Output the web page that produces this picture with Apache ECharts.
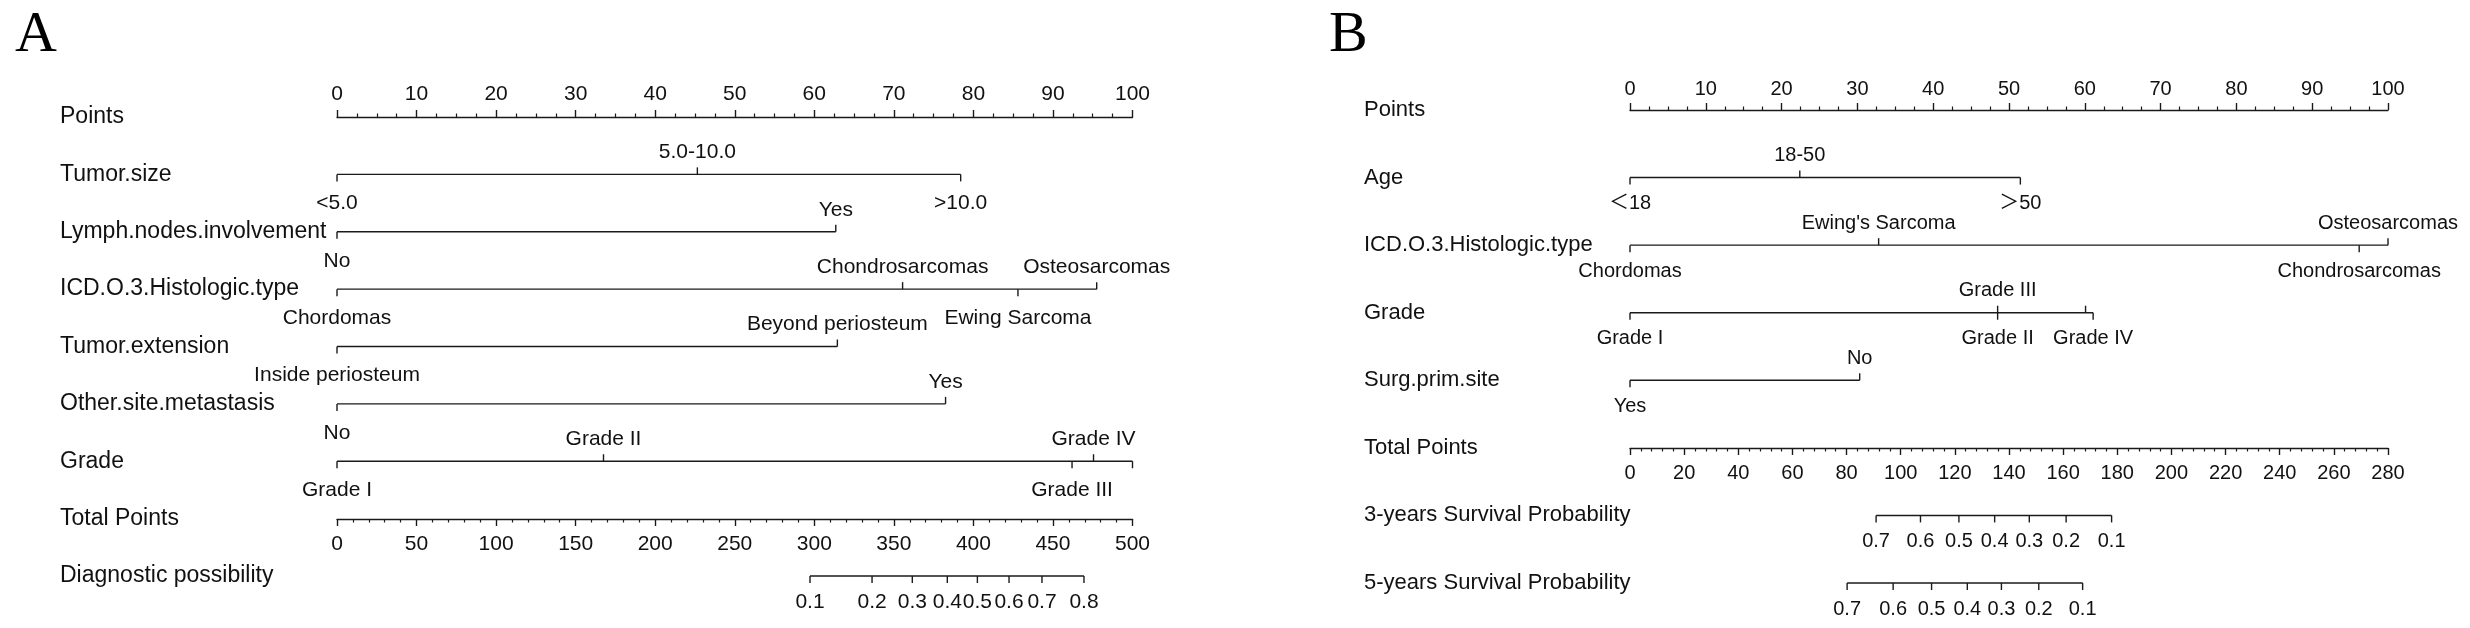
<!DOCTYPE html>
<html><head><meta charset="utf-8">
<script src="https://cdn.jsdelivr.net/npm/echarts@6/dist/echarts.min.js"></script>
<style>html,body{margin:0;padding:0;background:#fff}#c{width:2470px;height:628px}</style>
</head><body><div id="c"></div><script>
// ---------------- Panel A data ----------------
const aRowNames = ['Points','Tumor.size','Lymph.nodes.involvement','ICD.O.3.Histologic.type','Tumor.extension','Other.site.metastasis','Grade','Total Points','Diagnostic possibility'];
const aPointsMax = 100;
const aTotalMax = 500;
const aTumorSizeLevels = ['<5.0','5.0-10.0','>10.0'];
const aTumorSizePoints = [0, 45.3, 78.4];
const aLymphLevels = ['No','Yes'];
const aLymphPoints = [0, 62.7];
const aHistLevels = ['Chordomas','Chondrosarcomas','Ewing Sarcoma','Osteosarcomas'];
const aHistPoints = [0, 71.1, 85.6, 95.5];
const aExtLevels = ['Inside periosteum','Beyond periosteum'];
const aExtPoints = [0, 62.9];
const aMetLevels = ['No','Yes'];
const aMetPoints = [0, 76.5];
const aGradeLevels = ['Grade I','Grade II','Grade III','Grade IV',''];
const aGradePoints = [0, 33.5, 92.4, 95.1, 100];
const aDiagLabels = ['0.1','0.2','0.3','0.4','0.5','0.6','0.7','0.8'];
const aDiagTotals = [297.3, 336.3, 361.6, 383.6, 402.5, 422.4, 443.1, 469.5];

// ---------------- Panel B data ----------------
const bRowNames = ['Points','Age','ICD.O.3.Histologic.type','Grade','Surg.prim.site','Total Points','3-years Survival Probability','5-years Survival Probability'];
const bPointsMax = 100;
const bTotalMax = 280;
const bAgeLevels = ['\uFF1C18','18-50','\uFF1E50'];
const bAgePoints = [0, 22.4, 51.5];
const bHistLevels = ['Chordomas',"Ewing's Sarcoma",'Chondrosarcomas','Osteosarcomas'];
const bHistPoints = [0, 32.8, 96.2, 100];
const bGradeLevels = ['Grade I','Grade III','Grade II','','Grade IV'];
const bGradePoints = [0, 48.5, 48.5, 60.1, 61.1];
const bSurgLevels = ['Yes','No'];
const bSurgPoints = [0, 30.3];
const b3yLabels = ['0.7','0.6','0.5','0.4','0.3','0.2','0.1'];
const b3yTotals = [90.9, 107.3, 121.5, 134.7, 147.5, 161.1, 177.9];
const b5yLabels = ['0.7','0.6','0.5','0.4','0.3','0.2','0.1'];
const b5yTotals = [80.2, 97.2, 111.4, 124.6, 137.2, 151.0, 167.2];

// ---------------- styling ----------------
const FONT = '"Liberation Sans", Arial, "Noto Sans CJK SC", sans-serif';
const LINE = '#1a1a1a';
const LW = 1.4;
const TXT = '#111';

function levelSeries(xIdx, yIdx, row, levels, pts, fontSize, belowOff) {
  const lo = Math.min.apply(null, pts), hi = Math.max.apply(null, pts);
  return {
    type: 'custom', xAxisIndex: xIdx, yAxisIndex: yIdx, clip: false, silent: true,
    data: pts.map(p => [p, row]),
    renderItem(params, api) {
      const i = params.dataIndex;
      const c = api.coord([api.value(0), api.value(1)]);
      const up = i % 2 === 1;
      const ch = [{type: 'line', shape: {x1: c[0], y1: c[1], x2: c[0], y2: c[1] + (up ? -7 : 7)}, style: {stroke: LINE, lineWidth: LW}}];
      if (i === 0) {
        const s = api.coord([lo, row]), e = api.coord([hi, row]);
        ch.push({type: 'line', shape: {x1: s[0], y1: s[1], x2: e[0], y2: e[1]}, style: {stroke: LINE, lineWidth: LW}});
      }
      if (levels[i]) ch.push({type: 'text', x: c[0], y: c[1] + (up ? -22 : belowOff),
        style: {text: levels[i], fill: TXT, fontSize: fontSize, fontFamily: FONT, align: 'center', verticalAlign: 'middle'}});
      return {type: 'group', children: ch};
    }
  };
}
function probSeries(xIdx, yIdx, row, labels, totals, fontSize) {
  const lo = Math.min.apply(null, totals), hi = Math.max.apply(null, totals);
  return {
    type: 'custom', xAxisIndex: xIdx, yAxisIndex: yIdx, clip: false, silent: true,
    data: totals.map(t => [t, row]),
    renderItem(params, api) {
      const i = params.dataIndex;
      const c = api.coord([api.value(0), api.value(1)]);
      const ch = [{type: 'line', shape: {x1: c[0], y1: c[1], x2: c[0], y2: c[1] + 7}, style: {stroke: LINE, lineWidth: LW}}];
      if (i === 0) {
        const s = api.coord([lo, row]), e = api.coord([hi, row]);
        ch.push({type: 'line', shape: {x1: s[0], y1: s[1], x2: e[0], y2: e[1]}, style: {stroke: LINE, lineWidth: LW}});
      }
      ch.push({type: 'text', x: c[0], y: c[1] + 26,
        style: {text: labels[i], fill: TXT, fontSize: fontSize, fontFamily: FONT, align: 'center', verticalAlign: 'middle'}});
      return {type: 'group', children: ch};
    }
  };
}
function scaleAxis(grid, pos, max, interval, minorSplit, fontSize, margin) {
  return {
    type: 'value', gridIndex: grid, position: pos, min: 0, max: max, interval: interval,
    axisLine: {show: true, lineStyle: {color: LINE, width: LW}},
    axisTick: {show: true, inside: false, length: 7, lineStyle: {color: LINE, width: LW}},
    minorTick: {show: true, splitNumber: minorSplit, length: 3.5, lineStyle: {color: LINE, width: 1.2}},
    splitLine: {show: false}, minorSplitLine: {show: false},
    axisLabel: {show: true, color: TXT, fontSize: fontSize, fontFamily: FONT, margin: margin, showMinLabel: true, showMaxLabel: true}
  };
}
function hiddenX(grid, max) { return {type: 'value', gridIndex: grid, min: 0, max: max, show: false}; }
function hiddenY(grid) { return {type: 'value', gridIndex: grid, min: 0, max: 1, show: false}; }
function rowAxis(grid, names, fontSize, margin) {
  return {
    type: 'category', gridIndex: grid, data: names, inverse: true, boundaryGap: false,
    axisLine: {show: false}, axisTick: {show: false}, splitLine: {show: false},
    axisLabel: {show: true, interval: 0, align: 'left', margin: margin, color: TXT, fontSize: fontSize, fontFamily: FONT}
  };
}

const A_L = 337, A_R = 2470 - 1132.5;
const B_L = 1630, B_R = 2470 - 2388;

const option = {
  backgroundColor: '#fff',
  animation: false,
  title: [
    {text: 'A', left: 10, top: 2, textStyle: {fontFamily: '"Liberation Serif", "Times New Roman", serif', fontSize: 58, fontWeight: 'normal', color: '#000'}},
    {text: 'B', left: 1324, top: 2, textStyle: {fontFamily: '"Liberation Serif", "Times New Roman", serif', fontSize: 58, fontWeight: 'normal', color: '#000'}}
  ],
  grid: [
    {left: A_L, right: A_R, top: 116, height: 1},
    {left: A_L, right: A_R, top: 117, height: 459},
    {left: A_L, right: A_R, top: 518, height: 1},
    {left: B_L, right: B_R, top: 109, height: 1},
    {left: B_L, right: B_R, top: 110, height: 473},
    {left: B_L, right: B_R, top: 447, height: 1}
  ],
  xAxis: [
    scaleAxis(0, 'top', aPointsMax, 10, 4, 21, 11),
    hiddenX(1, aPointsMax),
    hiddenX(1, aTotalMax),
    scaleAxis(2, 'bottom', aTotalMax, 50, 5, 21, 15),
    scaleAxis(3, 'top', bPointsMax, 10, 4, 20, 10),
    hiddenX(4, bPointsMax),
    hiddenX(4, bTotalMax),
    scaleAxis(5, 'bottom', bTotalMax, 20, 5, 20, 15)
  ],
  yAxis: [
    hiddenY(0),
    rowAxis(1, aRowNames, 23, A_L - 60),
    hiddenY(2),
    hiddenY(3),
    rowAxis(4, bRowNames, 22, B_L - 1364),
    hiddenY(5)
  ],
  series: [
    levelSeries(1, 1, 1, aTumorSizeLevels, aTumorSizePoints, 21, 29),
    levelSeries(1, 1, 2, aLymphLevels, aLymphPoints, 21, 29),
    levelSeries(1, 1, 3, aHistLevels, aHistPoints, 21, 29),
    levelSeries(1, 1, 4, aExtLevels, aExtPoints, 21, 29),
    levelSeries(1, 1, 5, aMetLevels, aMetPoints, 21, 29),
    levelSeries(1, 1, 6, aGradeLevels, aGradePoints, 21, 29),
    probSeries(2, 1, 8, aDiagLabels, aDiagTotals, 21),
    levelSeries(5, 4, 1, bAgeLevels, bAgePoints, 20, 26),
    levelSeries(5, 4, 2, bHistLevels, bHistPoints, 20, 26),
    levelSeries(5, 4, 3, bGradeLevels, bGradePoints, 20, 26),
    levelSeries(5, 4, 4, bSurgLevels, bSurgPoints, 20, 26),
    probSeries(6, 4, 6, b3yLabels, b3yTotals, 20),
    probSeries(6, 4, 7, b5yLabels, b5yTotals, 20)
  ]
};
const chart = echarts.init(document.getElementById('c'), null, {renderer: 'canvas'});
chart.setOption(option);
</script></body></html>
